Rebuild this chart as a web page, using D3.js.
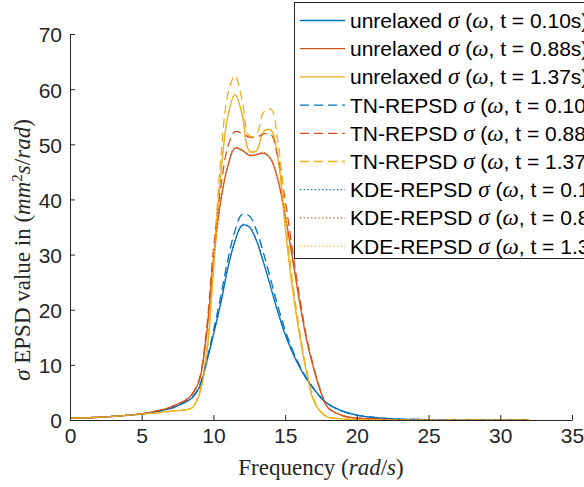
<!DOCTYPE html>
<html>
<head>
<meta charset="utf-8">
<script src="https://cdn.jsdelivr.net/npm/d3@7"></script>
<style>
  body { margin: 0; background: #fff; }
  svg { display: block; }
</style>
</head>
<body>
<script>
// frequency grid (rad/s)
var freq = [0, 1, 2, 3, 4, 5, 6, 7, 7.5, 8, 8.5, 9, 9.5, 10, 10.5, 11, 11.5, 12, 12.5, 13,
  13.5, 14, 14.5, 15, 15.5, 16, 16.5, 17, 17.5, 18, 19, 20, 21, 22, 23, 24, 26, 28, 30, 32];

// unrelaxed EPSD
var unrelaxed010 = [0.3, 0.4, 0.5, 0.65, 0.85, 1.1, 1.5, 2.1, 2.6, 3.2, 4.0, 5.8, 10.2, 15.5, 21, 27.5, 32.4, 35.3, 35.0, 32.5,
  28.5, 24, 19.5, 15.5, 12.3, 9.6, 7.4, 5.6, 4.0, 2.9, 1.6, 0.9, 0.5, 0.3, 0.15, 0.1, 0.05, 0.03, 0.02, 0.02];
var unrelaxed088 = [0.3, 0.4, 0.5, 0.65, 0.85, 1.1, 1.6, 2.3, 2.9, 3.5, 4.6, 7.0, 15, 29, 39.5, 46, 49.3, 48.9, 48.0, 48.1,
  48.4, 47.3, 43.5, 37, 29.5, 21.5, 14.5, 9.2, 5, 2.2, 0.8, 0.35, 0.2, 0.1, 0.06, 0.04, 0.03, 0.02, 0.02, 0.02];
var unrelaxed137 = [0.3, 0.4, 0.5, 0.65, 0.85, 1.1, 1.3, 1.55, 1.7, 1.85, 2.2, 4.5, 11, 27, 44, 55, 59, 55.5, 48.8, 48.8,
  52.3, 52.6, 47.5, 35, 24, 15.5, 8.5, 3.4, 1.4, 0.5, 0.2, 0.1, 0.05, 0.03, 0.02, 0.02, 0.02, 0.02, 0.02, 0.02];

// TN-REPSD
var tn010 = [0.3, 0.4, 0.5, 0.65, 0.85, 1.1, 1.5, 2.1, 2.6, 3.2, 4.1, 6.0, 10.5, 16.2, 22.3, 29, 34.3, 37.3, 37.0, 34.4,
  30.2, 25.4, 20.6, 16.3, 12.8, 9.9, 7.6, 5.7, 4.1, 2.9, 1.6, 0.9, 0.5, 0.3, 0.15, 0.1, 0.05, 0.03, 0.02, 0.02];
var tn088 = [0.3, 0.4, 0.5, 0.65, 0.85, 1.1, 1.6, 2.3, 2.9, 3.5, 4.7, 7.3, 16, 31, 42, 49.5, 52.3, 52.0, 51.3, 51.3,
  51.9, 51.8, 47.5, 40, 31, 22.5, 15, 9.5, 5.1, 2.2, 0.8, 0.35, 0.2, 0.1, 0.06, 0.04, 0.03, 0.02, 0.02, 0.02];
var tn137 = [0.3, 0.4, 0.5, 0.65, 0.85, 1.1, 1.3, 1.55, 1.7, 1.85, 2.2, 4.7, 12, 28.5, 47, 59, 62.4, 58, 51.5, 51.8,
  55.8, 56.4, 50.5, 37.5, 25.5, 16.3, 9, 3.7, 1.5, 0.55, 0.2, 0.1, 0.05, 0.03, 0.02, 0.02, 0.02, 0.02, 0.02, 0.02];

// KDE-REPSD
var kde010 = [0.3, 0.4, 0.5, 0.65, 0.85, 1.1, 1.5, 2.1, 2.6, 3.2, 4.0, 5.9, 10.1, 15.4, 21.2, 27.6, 32.5, 35.4, 35.1, 32.6,
  28.7, 24.2, 19.7, 15.7, 12.5, 9.8, 7.5, 5.7, 4.1, 2.9, 1.6, 0.9, 0.5, 0.3, 0.15, 0.1, 0.05, 0.03, 0.02, 0.02];
var kde088 = [0.3, 0.4, 0.5, 0.65, 0.85, 1.1, 1.6, 2.3, 2.9, 3.5, 4.6, 7.1, 15.3, 29.4, 39.8, 46.2, 49.4, 49.0, 48.1, 48.2,
  48.5, 47.4, 43.7, 37.2, 29.7, 21.6, 14.6, 9.3, 5.0, 2.2, 0.8, 0.35, 0.2, 0.1, 0.06, 0.04, 0.03, 0.02, 0.02, 0.02];
var kde137 = [0.3, 0.4, 0.5, 0.65, 0.85, 1.1, 1.3, 1.55, 1.7, 1.85, 2.2, 4.6, 11.2, 27.3, 44.3, 55.2, 59.1, 55.6, 48.9, 48.9,
  52.4, 52.7, 47.6, 35.2, 24.1, 15.6, 8.6, 3.5, 1.4, 0.5, 0.2, 0.1, 0.05, 0.03, 0.02, 0.02, 0.02, 0.02, 0.02, 0.02];

var times = ["0.10", "0.88", "1.37"];
var methods = ["unrelaxed", "TN-REPSD", "KDE-REPSD"];
var xTicks = [0, 5, 10, 15, 20, 25, 30, 35];
var yTicks = [0, 10, 20, 30, 40, 50, 60, 70];

function main() {
  var width = 584, height = 487;
  var colors = ["#0072BD", "#D95319", "#EDB120"];
  var dashes = [null, "9,5", "1.3,2.4"];
  var axisColor = "#262626";

  var svg = d3.select("body").append("svg")
    .attr("width", width)
    .attr("height", height);

  var x = d3.scaleLinear().domain([0, 35]).range([70, 572]);
  var y = d3.scaleLinear().domain([0, 70]).range([420, 34]);

  // series in plot order
  var series = [
    { m: 0, t: 0, v: unrelaxed010 }, { m: 0, t: 1, v: unrelaxed088 }, { m: 0, t: 2, v: unrelaxed137 },
    { m: 1, t: 0, v: tn010 }, { m: 1, t: 1, v: tn088 }, { m: 1, t: 2, v: tn137 },
    { m: 2, t: 0, v: kde010 }, { m: 2, t: 1, v: kde088 }, { m: 2, t: 2, v: kde137 }
  ];

  var line = d3.line()
    .x(function (d, i) { return x(freq[i]); })
    .y(function (d) { return y(d); })
    .curve(d3.curveCatmullRom.alpha(0.5));

  svg.append("g").selectAll("path")
    .data(series)
    .enter()
    .append("path")
    .attr("d", function (s) { return line(s.v); })
    .attr("fill", "none")
    .attr("stroke", function (s) { return colors[s.t]; })
    .attr("stroke-width", 1.3)
    .attr("stroke-dasharray", function (s) { return dashes[s.m]; });

  // axes, ticks pointing inward
  var xAxis = svg.append("g")
    .attr("transform", "translate(0,420)")
    .call(d3.axisBottom(x).tickValues(xTicks).tickSizeInner(-5).tickSizeOuter(0).tickPadding(8));
  var yAxis = svg.append("g")
    .attr("transform", "translate(70,0)")
    .call(d3.axisLeft(y).tickValues(yTicks).tickSizeInner(-5).tickSizeOuter(0).tickPadding(8));

  [xAxis, yAxis].forEach(function (ax) {
    ax.select(".domain").attr("stroke", axisColor);
    ax.selectAll(".tick line").attr("stroke", axisColor);
    ax.selectAll(".tick text")
      .attr("fill", axisColor)
      .style("font-family", "'Liberation Sans', Arial, sans-serif")
      .style("font-size", "21px");
  });
  yAxis.selectAll(".tick text").attr("dy", "0.38em");

  // axis labels (latex style)
  var xl = svg.append("text")
    .attr("x", 321)
    .attr("y", 475)
    .attr("text-anchor", "middle")
    .attr("fill", axisColor)
    .style("font-family", "'Liberation Serif', 'Times New Roman', serif")
    .style("font-size", "23px");
  xl.append("tspan").text("Frequency (");
  xl.append("tspan").style("font-style", "italic").text("rad");
  xl.append("tspan").text("/");
  xl.append("tspan").style("font-style", "italic").text("s");
  xl.append("tspan").text(")");

  var yl = svg.append("text")
    .attr("transform", "translate(30,250) rotate(-90)")
    .attr("text-anchor", "middle")
    .attr("fill", axisColor)
    .style("font-family", "'Liberation Serif', 'Times New Roman', serif")
    .style("font-size", "23px");
  yl.append("tspan").style("font-style", "italic").text("σ");
  yl.append("tspan").text(" EPSD value in (");
  yl.append("tspan").style("font-style", "italic").text("mm");
  yl.append("tspan").attr("baseline-shift", "super").style("font-size", "15px").text("2");
  yl.append("tspan").style("font-style", "italic").text("s");
  yl.append("tspan").text("/");
  yl.append("tspan").style("font-style", "italic").text("rad");
  yl.append("tspan").text(")");

  // legend (runs off the right edge, as in the original figure)
  var legend = svg.append("g");
  legend.append("rect")
    .attr("x", 294.5)
    .attr("y", 2.5)
    .attr("width", 300)
    .attr("height", 256)
    .attr("fill", "#fff")
    .attr("stroke", axisColor)
    .attr("stroke-width", 1);

  var rows = legend.selectAll("g.row")
    .data(series)
    .enter()
    .append("g")
    .attr("class", "row")
    .attr("transform", function (d, i) {
      return "translate(0," + (20.5 + i * 28.2) + ")";
    });

  rows.append("line")
    .attr("x1", 300)
    .attr("x2", 345)
    .attr("stroke", function (s) { return colors[s.t]; })
    .attr("stroke-width", 1.3)
    .attr("stroke-dasharray", function (s) { return dashes[s.m]; });

  var lt = rows.append("text")
    .attr("x", 350)
    .attr("y", 7.5)
    .attr("fill", "#000")
    .style("font-family", "'Liberation Sans', Arial, sans-serif")
    .style("font-size", "21px");
  lt.append("tspan").text(function (s) { return methods[s.m] + " "; });
  lt.append("tspan").style("font-family", "'Liberation Serif', serif").style("font-style", "italic").style("font-size", "23px").text("σ");
  lt.append("tspan").text(" (");
  lt.append("tspan").style("font-family", "'Liberation Serif', serif").style("font-style", "italic").style("font-size", "23px").text("ω");
  lt.append("tspan").text(function (s) { return ", t = " + times[s.t] + "s)"; });
}
document.addEventListener("DOMContentLoaded", main);
</script>
</body>
</html>
